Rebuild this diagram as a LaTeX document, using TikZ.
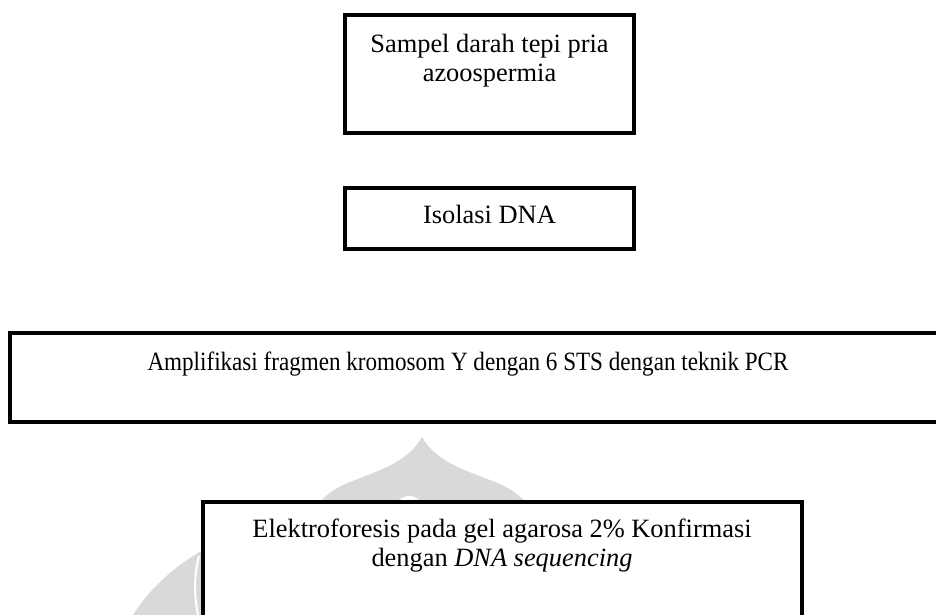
\documentclass[tikz,border=0pt]{standalone}
\usepackage{fontspec}
\setmainfont{Liberation Serif}
\begin{document}
\begin{tikzpicture}[x=1pt,y=-1pt,
  box/.style={draw, line width=3.2pt, fill=white, inner sep=0pt},
  txt/.style={font=\fontsize{26.4}{29}\selectfont, align=center, inner sep=0pt, anchor=base},
  wm/.style={fill=black!15}]
\useasboundingbox (0,0) rectangle (936,615);
\clip (0,0) rectangle (936,615);
% watermark (faint logo behind the last box)
\fill[wm] (422,437) .. controls (408,462) and (380,470) .. (350,482)
  .. controls (335,488) and (325,495) .. (318,505) -- (528,505)
  .. controls (520,495) and (510,488) .. (495,482)
  .. controls (465,470) and (436,462) .. (422,437) -- cycle;
\fill[white] (396,505) .. controls (400,497) and (405,496) .. (410,496)
  .. controls (415,496) and (419,499) .. (422,505) -- cycle;
\fill[wm] (133,615) .. controls (150,588) and (175,566) .. (203,550) -- (203,615) -- cycle;
\draw[white, line width=2pt] (199,556) .. controls (194,575) and (194,595) .. (198,615);
% boxes
\node[box, minimum width=289pt, minimum height=118pt] (b1) at (489.5,74) {};
\node[box, minimum width=289pt, minimum height=61pt] (b2) at (489.5,218.5) {};
\node[box, minimum width=936pt, minimum height=89pt] (b3) at (478,377.5) {};
\node[box, minimum width=599pt, minimum height=128pt] (b4) at (502.5,566) {};
% texts (anchor = baseline of the last line)
\node[txt] (t1) at (489.5,82) {Sampel darah tepi pria\\azoospermia};
\node[txt] (t2) at (489.5,223) {Isolasi DNA};
\node[txt] (t3) at (468,370) {\scalebox{0.875}[1]{Amplifikasi fragmen kromosom Y dengan 6 STS dengan teknik PCR}};
\node[txt] (t4) at (502,566) {Elektroforesis pada gel agarosa 2\% Konfirmasi\\dengan \textit{DNA sequencing}};
\end{tikzpicture}
\end{document}
